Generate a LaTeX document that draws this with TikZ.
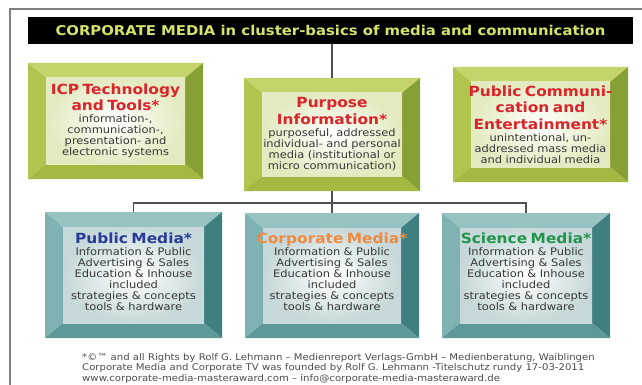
\documentclass[tikz,border=0pt]{standalone}
\usepackage{fontspec}
\setmainfont{DejaVu Sans}[FakeStretch=1.1]
\usetikzlibrary{fit,calc}
\definecolor{gtop}{HTML}{C4D46A}
\definecolor{gleft}{HTML}{B0C54E}
\definecolor{gright}{HTML}{86A034}
\definecolor{gbot}{HTML}{A3B943}
\definecolor{gin}{HTML}{E3EAC0}
\definecolor{ttop}{HTML}{97C3C3}
\definecolor{tleft}{HTML}{7FB2B2}
\definecolor{tright}{HTML}{3F7F80}
\definecolor{tbot}{HTML}{5E9898}
\definecolor{tin}{HTML}{C6D8D9}
\definecolor{cred}{HTML}{D8262B}
\definecolor{cblue}{HTML}{263C96}
\definecolor{corange}{HTML}{F08A40}
\definecolor{cgreen}{HTML}{22934A}
\definecolor{bodyc}{HTML}{383838}
\definecolor{titlec}{HTML}{D6E26A}
\definecolor{linec}{HTML}{505050}
\definecolor{framec}{HTML}{808080}
\newcommand\bxtitle[2]{{\fontsize{14}{16.3}\selectfont\bfseries\color{#1}#2\par}\vspace{1pt}}
\newcommand\bvbox[8]{%
 \fill[#6top] (#2,#3) -- (#4,#3) -- ({#4-18},{#3+15}) -- ({#2+18},{#3+15}) -- cycle;
 \fill[#6left] (#2,#3) -- ({#2+18},{#3+15}) -- ({#2+18},{#5-15}) -- (#2,#5) -- cycle;
 \fill[#6right] (#4,#3) -- (#4,#5) -- ({#4-18},{#5-15}) -- ({#4-18},{#3+15}) -- cycle;
 \fill[#6bot] (#2,#5) -- ({#2+18},{#5-15}) -- ({#4-18},{#5-15}) -- (#4,#5) -- cycle;
 \shade[inner color=white, outer color=#6in] ({#2+18},{#3+15}) rectangle ({#4-18},{#5-15});
 \node[boxarea, fit={(#2,#3) (#4,#5)}] (#1) {};
 \node[boxtext, yshift=#8] (#1-t) at (#1.center) {#7};
}
\begin{document}
\begin{tikzpicture}[x=1pt,y=-1pt,
  boxarea/.style={inner sep=0pt, draw=none},
  boxtext/.style={text width=176pt, align=center, inner sep=0pt, text=bodyc,
    font=\fontsize{10.4}{11}\selectfont},
  titlebar/.style={fill=black, minimum width=605pt, minimum height=27pt, inner sep=0pt,
    text=titlec, font=\fontsize{13.5}{15}\selectfont\bfseries},
  conn/.style={draw=linec, line width=1.2pt},
  foot/.style={anchor=base west, inner sep=0pt, text=bodyc!90!white,
    font=\fontsize{9.2}{10.5}\selectfont}]
\useasboundingbox (0,0) rectangle (642,385);
\fill[white] (0,0) rectangle (642,385);
\draw[framec, line width=1.2pt] (10,385) -- (10,9) -- (642,9);
\node[titlebar] (title) at (330.5,30.5) {CORPORATE MEDIA in cluster-basics of media and communication};
\bvbox{icp}{28}{63}{203}{179}{g}{\bxtitle{cred}{ICP Technology\\and Tools*}information-,\\communication-,\\presentation- and\\electronic systems}{0pt}
\bvbox{purp}{244}{78}{420}{191}{g}{\bxtitle{cred}{Purpose\\Information*}purposeful, addressed\\individual- and personal\\media (institutional or\\micro communication)}{0.5pt}
\bvbox{pubc}{453}{67}{628}{182}{g}{\bxtitle{cred}{Public Communi-\\cation and\\Entertainment*}unintentional, un-\\addressed mass media\\and individual media}{0pt}
\bvbox{pubm}{45}{212}{222}{338}{t}{\bxtitle{cblue}{Public Media*}Information \& Public\\Advertising \& Sales\\Education \& Inhouse\\included\\strategies \& concepts\\tools \& hardware}{3.5pt}
\bvbox{corp}{245}{213}{419}{338}{t}{\bxtitle{corange}{Corporate Media*}Information \& Public\\Advertising \& Sales\\Education \& Inhouse\\included\\strategies \& concepts\\tools \& hardware}{3.5pt}
\bvbox{scim}{442}{213}{610}{338}{t}{\bxtitle{cgreen}{Science Media*}Information \& Public\\Advertising \& Sales\\Education \& Inhouse\\included\\strategies \& concepts\\tools \& hardware}{3.5pt}
\coordinate (bus) at (332,203);
\draw[conn] (title.south -| purp.north) -- (purp.north);
\draw[conn] (purp.south) -- (corp.north);
\draw[conn] (pubm.north) |- (bus) -| (scim.north);
\node[foot] (f1) at (82,360) {*©™ and all Rights by Rolf G. Lehmann – Medienreport Verlags-GmbH – Medienberatung, Waiblingen};
\node[foot] (f2) at (82,370.5) {Corporate Media and Corporate TV was founded by Rolf G. Lehmann -Titelschutz rundy 17-03-2011};
\node[foot] (f3) at (82,381) {www.corporate-media-masteraward.com – info@corporate-media-masteraward.de};
\end{tikzpicture}
\end{document}
